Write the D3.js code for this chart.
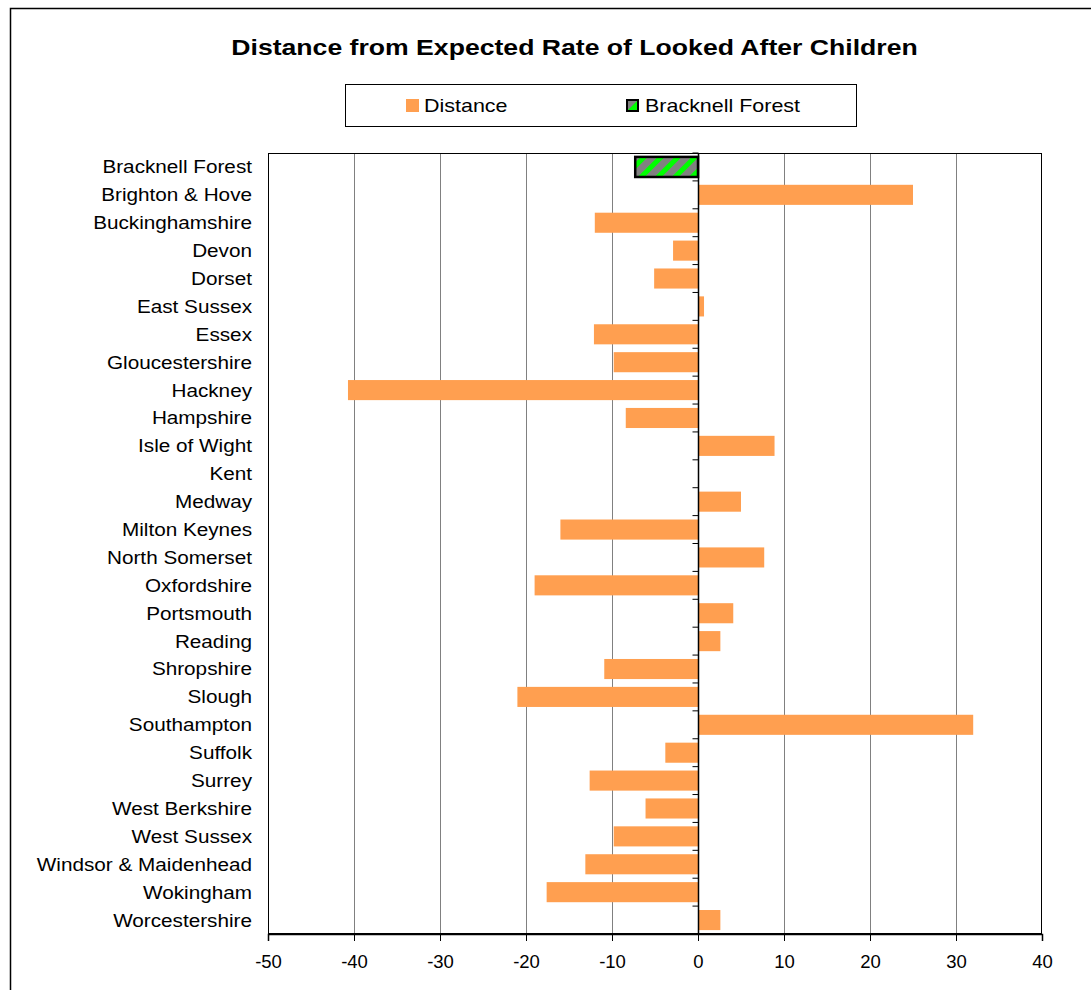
<!DOCTYPE html>
<html><head><meta charset="utf-8">
<script src="https://cdn.jsdelivr.net/npm/d3@7"></script>
<style>
body{margin:0;background:#fff;}
svg{display:block;font-family:Arial,"Liberation Sans",sans-serif;}
</style></head>
<body>
<svg id="c" width="1091" height="990"></svg>
<script>
const categories = ["Bracknell Forest","Brighton & Hove","Buckinghamshire","Devon","Dorset","East Sussex","Essex","Gloucestershire","Hackney","Hampshire","Isle of Wight","Kent","Medway","Milton Keynes","North Somerset","Oxfordshire","Portsmouth","Reading","Shropshire","Slough","Southampton","Suffolk","Surrey","West Berkshire","West Sussex","Windsor & Maidenhead","Wokingham","Worcestershire"];
const distance = [null,25.0,-12.0,-2.9,-5.1,0.7,-12.1,-9.8,-40.7,-8.4,8.9,0,5.0,-16.0,7.7,-19.0,4.1,2.6,-10.9,-21.0,32.0,-3.8,-12.6,-6.1,-9.8,-13.1,-17.6,2.6];
const bracknell = [-7.3];
const xTicks = [-50,-40,-30,-20,-10,0,10,20,30,40];
const title = "Distance from Expected Rate of Looked After Children";
const legendLabels = ["Distance","Bracknell Forest"];

const svg = d3.select("#c");
const L = 268, R = 1042, T = 153, B = 934;
const x = d3.scaleLinear().domain([-50,40]).range([L,R]);
const y = d3.scaleBand().domain(categories).range([T,B]).paddingInner(0.28).paddingOuter(0.14);
const yb = d3.scaleBand().domain(categories).range([T,B]);

// pattern
const defs = svg.append("defs");
const pat = defs.append("pattern").attr("id","hatch").attr("patternUnits","userSpaceOnUse")
  .attr("width",12).attr("height",12).attr("patternTransform","rotate(45)");
pat.append("rect").attr("width",12).attr("height",12).attr("fill","#808080");
pat.append("rect").attr("width",5).attr("height",12).attr("fill","#00ff00");

// outer border
svg.append("path").attr("d",`M10.5,${990} V8.5 H1091`).attr("fill","none").attr("stroke","#000").attr("stroke-width",1.5);

// title
svg.append("text").attr("transform","translate(574.5,55) scale(1.21,1)").attr("text-anchor","middle")
  .attr("font-size",22).attr("font-weight","bold").text(title);

// legend
svg.append("rect").attr("x",345.5).attr("y",84.5).attr("width",511).attr("height",42)
  .attr("fill","#fff").attr("stroke","#000").attr("stroke-width",1);
svg.append("rect").attr("x",406).attr("y",99).attr("width",13).attr("height",13).attr("fill","#ff9f50");
svg.append("text").attr("transform","translate(424,112) scale(1.13,1)").attr("font-size",19).text(legendLabels[0]);
const lg = svg.append("g");
lg.append("path").attr("d","M627,100 h11 v11 h-11 z").attr("fill","#808080");
lg.append("path").attr("d","M638,100 v11 h-11 z").attr("fill","#00ff00");
lg.append("rect").attr("x",627).attr("y",100).attr("width",11).attr("height",11).attr("fill","none").attr("stroke","#000").attr("stroke-width",2);
svg.append("text").attr("transform","translate(645,112) scale(1.13,1)").attr("font-size",19).text(legendLabels[1]);

// gridlines
svg.append("g").selectAll("line").data(xTicks.filter(d=>d!==-50 && d!==40 && d!==0)).join("line")
  .attr("x1",d=>Math.round(x(d))+0.5).attr("x2",d=>Math.round(x(d))+0.5)
  .attr("y1",T).attr("y2",B).attr("stroke","#808080").attr("stroke-width",1);

// plot border
svg.append("rect").attr("x",L+0.5).attr("y",T+0.5).attr("width",R-L-1).attr("height",B-T-1)
  .attr("fill","none").attr("stroke","#000").attr("stroke-width",1);

// bars
svg.append("g").selectAll("rect").data(categories.map((c,i)=>({c,v:distance[i]})).filter(d=>d.v!==null && d.v!==0)).join("rect")
  .attr("x",d=>x(Math.min(0,d.v))).attr("width",d=>Math.abs(x(d.v)-x(0)))
  .attr("y",d=>y(d.c)).attr("height",y.bandwidth()).attr("fill","#ff9f50");

svg.append("rect").attr("x",x(bracknell[0])).attr("width",x(0)-x(bracknell[0]))
  .attr("y",y(categories[0])).attr("height",y.bandwidth())
  .attr("fill","url(#hatch)").attr("stroke","#000").attr("stroke-width",2.5);

// zero axis with ticks
const x0 = Math.round(x(0))+0.5;
svg.append("line").attr("x1",x0).attr("x2",x0).attr("y1",T).attr("y2",B).attr("stroke","#000").attr("stroke-width",1.5);
svg.append("g").selectAll("line").data(d3.range(categories.length+1)).join("line")
  .attr("x1",x0-6).attr("x2",x0).attr("y1",i=>T+i*yb.step()).attr("y2",i=>T+i*yb.step())
  .attr("stroke","#000").attr("stroke-width",1);

// bottom axis
const xa = svg.append("g").attr("transform",`translate(0,${B})`)
  .call(d3.axisBottom(x).tickValues(xTicks).tickSize(7).tickPadding(14).tickFormat(d=>String(d)));
xa.select(".domain").attr("stroke","#000").attr("stroke-width",1.5);
xa.selectAll(".tick line").attr("stroke","#000");
xa.selectAll("text").attr("font-size",18.5).attr("font-family","Arial,'Liberation Sans',sans-serif").attr("fill","#000");

// category labels
svg.append("g").selectAll("text").data(categories).join("text")
  .attr("transform",d=>`translate(252,${yb(d)+yb.bandwidth()/2}) scale(1.12,1)`).attr("dy","0.35em")
  .attr("text-anchor","end").attr("font-size",18.5).text(d=>d);
</script>
</body></html>
